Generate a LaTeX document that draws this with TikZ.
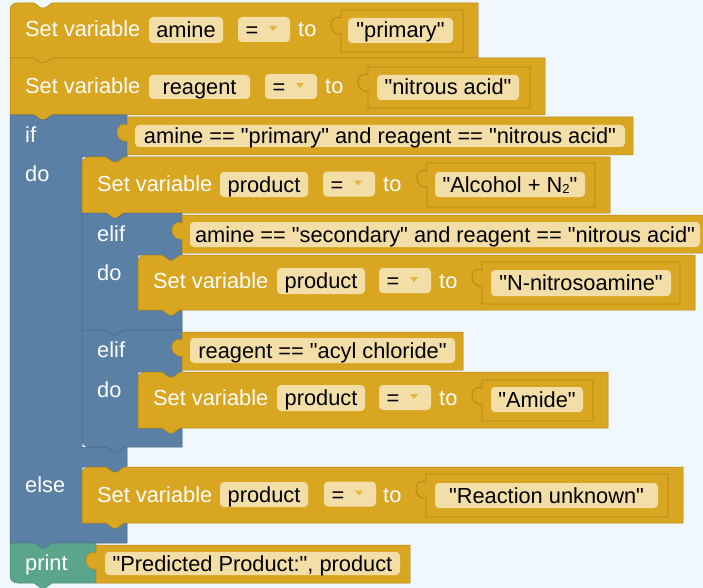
\documentclass[tikz,border=0pt]{standalone}
\usepackage{fontspec}
\setmainfont{Liberation Sans}[Ligatures=TeXOff]
\definecolor{bg}{RGB}{240,247,253}
\definecolor{gold}{RGB}{217,166,33}
\definecolor{golddk}{RGB}{178,133,22}
\definecolor{fieldc}{RGB}{243,222,168}
\definecolor{lgblue}{RGB}{91,128,165}
\definecolor{bluedk}{RGB}{72,102,132}
\definecolor{bluelt}{RGB}{170,192,214}
\definecolor{tgreen}{RGB}{91,165,140}
\definecolor{greendk}{RGB}{72,132,112}
\definecolor{tri}{RGB}{228,180,64}
% statement block: style, x1, y1, x2, y2
\newcommand\stmtblk[5]{\path[#1] (#2,#5) -- (#2,#3) -- (#2+24,#3) -- (#2+31,#3+5) -- (#2+35,#3+5) -- (#2+42,#3) -- (#4,#3) -- (#4,#5) -- (#2+42,#5) -- (#2+35,#5+5) -- (#2+31,#5+5) -- (#2+24,#5) -- cycle;}
\newcommand\stmtblkR[5]{\path[#1] (#2,#5) -- (#2,#3+7) .. controls (#2,#3+3) and (#2+3,#3) .. (#2+7,#3) -- (#2+24,#3) -- (#2+31,#3+5) -- (#2+35,#3+5) -- (#2+42,#3) -- (#4,#3) -- (#4,#5) -- (#2+42,#5) -- (#2+35,#5+5) -- (#2+31,#5+5) -- (#2+24,#5) -- cycle;}
% value block with left tab: style, x1, y1, x2, y2
\newcommand\valblk[5]{\path[#1] (#2,#3) -- (#4,#3) -- (#4,#5) -- (#2,#5) -- (#2,#3+24) .. controls (#2-3,#3+25) and (#2-10,#3+23) .. (#2-10,#3+15) .. controls (#2-10,#3+8) and (#2-4,#3+6) .. (#2,#3+8) -- cycle;}
% field: name, x1, y1, x2, y2, text
\newcommand\fieldbox[6]{\path[fill=fieldc, rounded corners=4pt] (#2,#3) rectangle (#4,#5);
\node[ftxt] (#1) at ({(#2+#4)/2},{(#3+#5)/2+7.5}) {#6};}
% dropdown: name, x1, yc
\newcommand\ddfield[3]{\path[fill=fieldc, rounded corners=4pt] (#2,#3-13) rectangle (#2+52,#3+12);
\node[ftxt] (#1) at (#2+14,#3+7.5) {=};
\path[fill=tri] (#2+31,#3-4) -- (#2+39,#3-4) -- (#2+35,#3+1) -- cycle;}
% light highlight at an inner corner: x, y
\newcommand\hilite[2]{\draw[bluelt, line width=1.2pt] (#1+0.6,#2-9) .. controls (#1+0.6,#2-3) and (#1+3,#2-0.6) .. (#1+9,#2-0.6);}
\begin{document}
\begin{tikzpicture}[x=1pt,y=-1pt,font=\fontsize{21.8}{26}\selectfont,
  lbl/.style={text=white, anchor=base west, inner sep=0pt},
  ftxt/.style={text=black, anchor=base, inner sep=0pt},
  goldblk/.style={fill=gold, draw=golddk, line width=0.5pt},
  blueblk/.style={fill=lgblue, draw=bluedk, line width=0.5pt},
  greenblk/.style={fill=tgreen, draw=greendk, line width=0.5pt},
  strblk/.style={fill=gold, draw=golddk, line width=0.8pt}]
\useasboundingbox (0,0) rectangle (703,588);
\clip (0,0) rectangle (703,588);
\fill[bg] (0,0) rectangle (703,588);

% Block A
\stmtblkR{goldblk}{10}{3}{478}{58}
\node[lbl] (sA) at (25,37) {Set variable};
\fieldbox{fA}{149}{17}{223}{43}{amine}
\ddfield{eA}{238}{30}
\node[lbl] (tA) at (298,37) {to};
\valblk{strblk}{341}{10}{463}{52}
\fieldbox{vA}{348}{18}{453}{43}{"primary"}

% Block B
\stmtblk{goldblk}{10}{58}{545}{115}
\node[lbl] (sB) at (25,94) {Set variable};
\fieldbox{fB}{149}{75}{250}{99}{reagent}
\ddfield{eB}{265}{87}
\node[lbl] (tB) at (325,94) {to};
\valblk{strblk}{368}{67}{530}{108}
\fieldbox{vB}{377}{75}{519}{100}{"nitrous acid"}

% outer if block
\path[blueblk] (10,543) -- (10,115) -- (34,115) -- (41,120) -- (45,120) -- (52,115) -- (127,115) -- (127,157)
 -- (124,157) -- (117,162) -- (113,162) -- (106,157) -- (82,157)
 -- (82,447) -- (127,447) -- (127,467)
 -- (124,467) -- (117,472) -- (113,472) -- (106,467) -- (82,467)
 -- (82,523) -- (127,523) -- (127,543)
 -- (52,543) -- (45,548) -- (41,548) -- (34,543) -- cycle;
\hilite{82}{447}
\hilite{82}{523}
\node[lbl] (lif) at (25,143) {if};
\node[lbl] (ldo) at (25,182) {do};
\node[lbl] (lelse) at (25,492) {else};
\valblk{goldblk}{127}{117}{633}{155}
\fieldbox{cIf}{135}{125}{625}{147}{amine == "primary" and reagent == "nitrous acid"}

% Block C
\stmtblkR{goldblk}{82}{157}{610}{213}
\node[lbl] (sC) at (97,191.5) {Set variable};
\fieldbox{fC}{220}{172}{308}{197}{product}
\ddfield{eC}{323}{184.5}
\node[lbl] (tC) at (383,191.5) {to};
\valblk{strblk}{427}{163}{595}{207}
\fieldbox{vC}{435}{172}{585}{197}{"Alcohol + N\raisebox{-1.5pt}{\fontsize{13}{13}\selectfont 2}"}

% elif 1
\path[blueblk] (82,330) -- (82,213) -- (106,213) -- (113,218) -- (117,218) -- (124,213) -- (182,213) -- (182,255)
 -- (180,255) -- (173,260) -- (169,260) -- (162,255) -- (138,255)
 -- (138,310) -- (182,310) -- (182,330)
 -- (124,330) -- (117,335) -- (113,335) -- (106,330) -- cycle;
\hilite{138}{310}
\node[lbl] (lelif1) at (97,241) {elif};
\node[lbl] (ldo1) at (97,280) {do};
\valblk{goldblk}{182}{215}{708}{253}
\fieldbox{cE1}{190}{222}{700}{247}{amine == "secondary" and reagent == "nitrous acid"}

% Block D
\stmtblkR{goldblk}{138}{255}{695}{310}
\node[lbl] (sD) at (153,288.5) {Set variable};
\fieldbox{fD}{277}{268}{365}{294}{product}
\ddfield{eD}{379}{281}
\node[lbl] (tD) at (439,288.5) {to};
\valblk{strblk}{482}{262}{680}{304}
\fieldbox{vD}{491}{270}{671}{296}{"N-nitrosoamine"}

% elif 2
\path[blueblk] (82,439) -- (82,330) -- (106,330) -- (113,335) -- (117,335) -- (124,330) -- (182,330) -- (182,372)
 -- (180,372) -- (173,377) -- (169,377) -- (162,372) -- (138,372)
 -- (138,428) -- (182,428) -- (182,447)
 -- (124,447) -- (117,452) -- (113,452) -- (106,447) -- (90,447) .. controls (85,447) and (82,444) .. (82,439) -- cycle;
\hilite{138}{428}
\node[lbl] (lelif2) at (97,357) {elif};
\node[lbl] (ldo2) at (97,397) {do};
\valblk{goldblk}{182}{332}{463}{370}
\fieldbox{cE2}{190}{338}{455}{363}{reagent == "acyl chloride"}

% Block E
\stmtblkR{goldblk}{138}{372}{608}{428}
\node[lbl] (sE) at (153,405.5) {Set variable};
\fieldbox{fE}{277}{385}{365}{411}{product}
\ddfield{eE}{379}{398}
\node[lbl] (tE) at (439,405.5) {to};
\valblk{strblk}{482}{380}{593}{421}
\fieldbox{vE}{491}{387}{583}{412}{"Amide"}

% Block F (else)
\stmtblkR{goldblk}{82}{467}{683}{523}
\node[lbl] (sF) at (97,502) {Set variable};
\fieldbox{fF}{220}{482}{308}{507}{product}
\ddfield{eF}{324}{494.5}
\node[lbl] (tF) at (383,502) {to};
\valblk{strblk}{426}{474}{668}{517}
\fieldbox{vF}{435}{483}{658}{508}{"Reaction unknown"}

% print block
\path[greenblk] (10,575) -- (10,543) -- (34,543) -- (41,548) -- (45,548) -- (52,543) -- (96,543) -- (96,583)
 -- (52,583) -- (45,588) -- (41,588) -- (34,583) -- (18,583) .. controls (13,583) and (10,580) .. (10,575) -- cycle;
\node[lbl] (lprint) at (25,570) {print};
\valblk{goldblk}{96}{545}{410}{583}
\fieldbox{vP}{105}{552}{400}{575}{"Predicted Product:", product}
\end{tikzpicture}
\end{document}
